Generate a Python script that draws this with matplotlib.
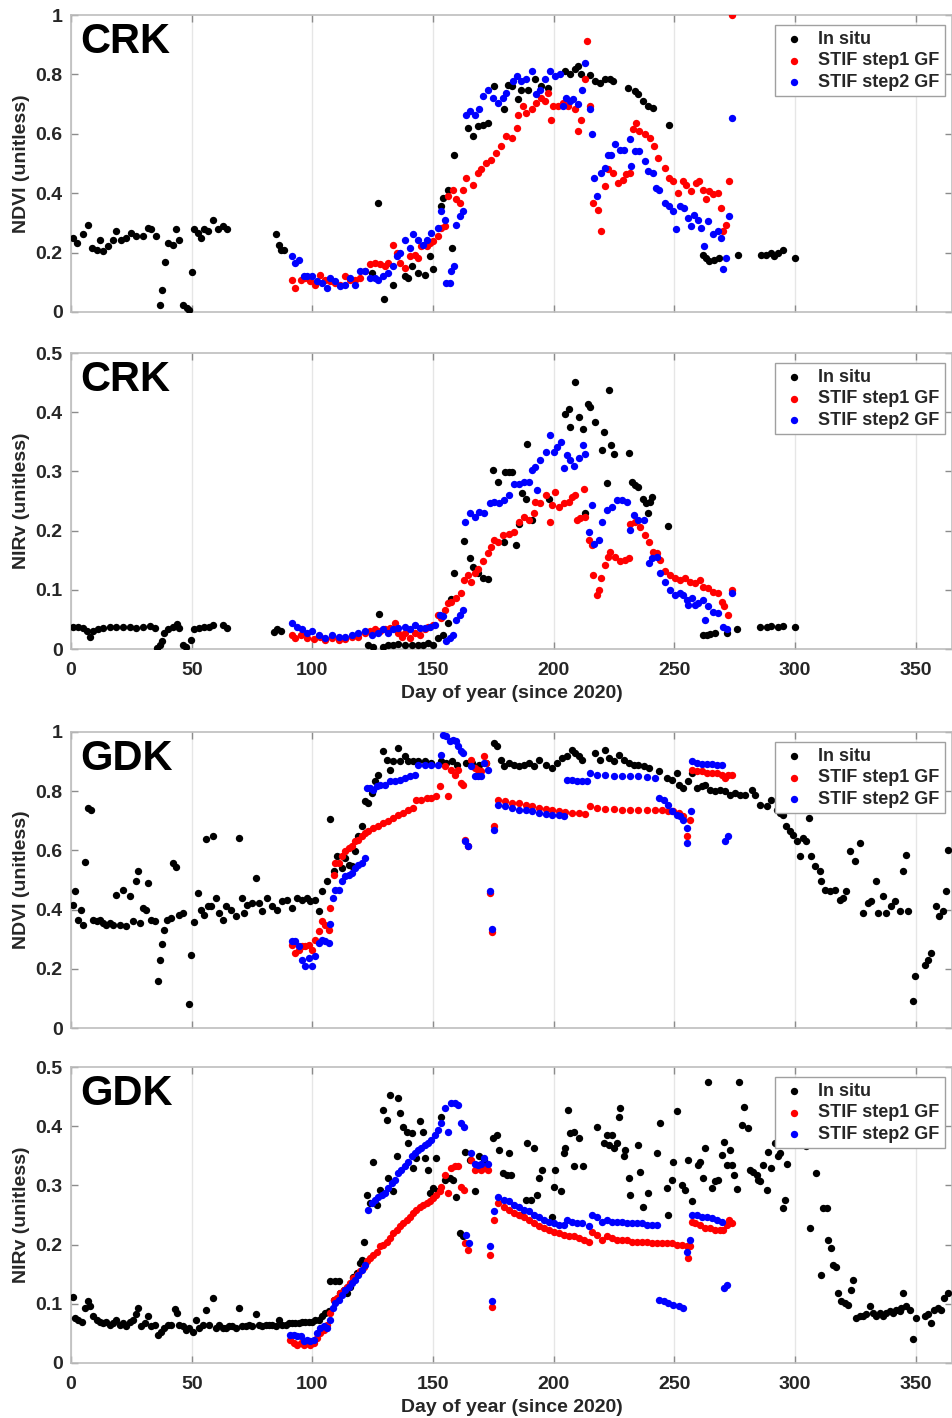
import matplotlib
matplotlib.use("Agg")
import matplotlib.pyplot as plt
from matplotlib.ticker import FuncFormatter

plt.rcParams['font.family'] = ['Liberation Sans', 'DejaVu Sans']

# ---------------- DATA: (day of year, value) ----------------
crk_ndvi_insitu = [(1.0,0.249),(2.3,0.233),(5.1,0.261),(7.1,0.294),(8.5,0.216),(10.6,0.210),(12.0,0.244),(13.3,0.204),(15.4,0.221),(17.4,0.244),
 (18.8,0.272),(20.9,0.244),(22.9,0.249),(25.0,0.266),(27.1,0.255),(29.8,0.255),(31.9,0.283),(33.2,0.278),(35.3,0.255),(36.7,0.022),
 (37.8,0.073),(38.9,0.169),(40.1,0.233),(42.2,0.227),(43.5,0.278),(44.9,0.244),(46.3,0.025),(47.9,0.013),(49.0,0.006),(50.0,0.135),
 (51.1,0.278),(52.5,0.266),(53.8,0.249),(55.2,0.278),(56.6,0.272),(58.7,0.311),(60.7,0.278),(62.8,0.289),(64.8,0.278),
 (84.8,0.261),(86.1,0.227),(86.8,0.210),(88.2,0.210),
 (124.6,0.131),(127.3,0.367),(129.8,0.044),(133.5,0.092),(138.3,0.120),(139.7,0.115),(141.1,0.154),(143.8,0.131),(146.6,0.126),(148.6,0.188),
 (150.0,0.143),(153.4,0.356),(154.1,0.384),(156.2,0.412),(158.0,0.216),(158.7,0.527),(164.4,0.620),(166.5,0.592),(168.5,0.626),(170.6,0.631),
 (172.7,0.637),(175.4,0.761),(179.5,0.682),(181.1,0.766),(182.5,0.761),(185.3,0.716),(186.6,0.749),(189.4,0.749),(192.1,0.783),(194.9,0.761),
 (197.7,0.755),(204.5,0.811),(206.6,0.800),(208.7,0.817),(210.1,0.828),(211.4,0.800),(214.9,0.797),(216.9,0.778),(219.0,0.772),(221.1,0.785),
 (223.1,0.785),(224.5,0.778),(230.7,0.755),(233.5,0.744),(234.8,0.733),(236.9,0.710),(239.0,0.693),(241.0,0.688),(247.9,0.630),(261.7,0.193),
 (263.1,0.182),(264.5,0.171),(266.5,0.176),(268.6,0.182),(276.2,0.191),(285.8,0.191),(287.9,0.193),(289.9,0.199),(291.3,0.188),(292.7,0.199),
 (294.8,0.208),(300.0,0.182)]

crk_ndvi_step1 = [(91.6,0.109),(93.0,0.081),(95.1,0.109),(97.1,0.115),(99.2,0.103),(101.2,0.092),(103.3,0.126),(105.4,0.109),(107.4,0.103),(109.5,0.098),
 (111.5,0.092),(113.6,0.120),(115.7,0.109),(117.7,0.109),(119.8,0.115),(121.8,0.137),(123.9,0.160),(126.0,0.165),(128.0,0.160),(130.1,0.154),
 (131.5,0.165),(133.5,0.227),(134.9,0.199),(136.3,0.165),(138.3,0.148),(140.4,0.188),(142.4,0.193),(143.8,0.182),(145.2,0.221),(147.3,0.221),
 (148.6,0.233),(150.0,0.238),(152.1,0.255),(153.4,0.283),(154.8,0.289),(156.2,0.390),(158.2,0.412),(159.6,0.379),(161.0,0.367),(162.4,0.412),
 (163.7,0.452),(166.5,0.429),(168.5,0.469),(169.9,0.480),(172.0,0.502),(174.0,0.513),(176.1,0.536),(178.2,0.558),(180.4,0.592),(182.5,0.587),
 (184.6,0.620),(185.3,0.665),(187.3,0.693),(188.7,0.671),(190.8,0.682),(192.8,0.704),(194.9,0.721),(196.3,0.710),(197.7,0.738),(199.0,0.648),
 (199.7,0.693),(201.8,0.693),(203.9,0.704),(205.9,0.693),(208.7,0.682),(210.1,0.609),(211.4,0.648),(212.8,0.783),(213.9,0.912),(214.9,0.693),
 (216.3,0.367),(218.3,0.345),(219.7,0.272),(221.1,0.424),(222.5,0.480),(224.5,0.469),(226.6,0.435),(228.7,0.446),(230.0,0.463),(231.4,0.469),
 (232.8,0.615),(234.2,0.637),(235.5,0.609),(237.6,0.598),(239.7,0.587),(241.7,0.558),(243.1,0.519),(245.9,0.485),(247.9,0.452),(249.3,0.440),
 (251.4,0.401),(253.4,0.440),(254.8,0.429),(256.9,0.407),(259.0,0.435),(260.3,0.440),(261.7,0.412),(263.1,0.379),(264.5,0.407),(265.8,0.396),
 (267.9,0.401),(269.3,0.351),(270.0,0.272),(271.4,0.294),(272.7,0.440),(273.7,1.000)]

crk_ndvi_step2 = [(91.6,0.188),(93.0,0.165),(94.6,0.176),(96.4,0.120),(97.8,0.120),(99.9,0.120),(101.9,0.103),(104.0,0.098),(106.0,0.081),(107.4,0.115),
 (109.5,0.103),(111.5,0.087),(113.6,0.092),(115.7,0.115),(117.7,0.092),(119.8,0.137),(121.8,0.137),(123.9,0.115),(126.0,0.115),(127.3,0.109),
 (129.4,0.120),(131.5,0.131),(133.5,0.154),(134.9,0.188),(136.3,0.199),(138.3,0.244),(140.4,0.216),(141.8,0.261),(143.8,0.244),(145.9,0.227),
 (147.3,0.244),(149.3,0.266),(152.1,0.283),(153.4,0.339),(154.8,0.311),(155.5,0.098),(156.9,0.098),(157.6,0.137),(158.7,0.154),(159.6,0.294),
 (161.0,0.322),(162.4,0.339),(163.7,0.665),(165.1,0.676),(167.2,0.665),(169.2,0.682),(170.6,0.727),(172.7,0.749),(174.7,0.721),(176.8,0.704),
 (178.8,0.721),(180.2,0.738),(183.2,0.778),(184.6,0.794),(186.6,0.778),(188.7,0.783),(190.8,0.811),(192.8,0.733),(194.2,0.749),(196.3,0.783),
 (198.3,0.811),(200.4,0.794),(202.5,0.800),(203.9,0.693),(205.2,0.721),(206.6,0.710),(208.0,0.716),(210.1,0.699),(211.7,0.749),(212.8,0.839),
 (214.9,0.682),(215.8,0.598),(216.7,0.452),(218.0,0.390),(219.7,0.469),(221.1,0.485),(222.5,0.530),(223.8,0.530),(225.2,0.564),(227.3,0.547),
 (229.3,0.547),(231.4,0.581),(232.1,0.491),(233.5,0.542),(235.5,0.542),(237.6,0.508),(239.0,0.474),(241.0,0.469),(242.4,0.418),(243.8,0.412),
 (245.9,0.367),(247.9,0.356),(249.3,0.339),(250.7,0.278),(252.1,0.356),(254.1,0.351),(255.5,0.317),(256.9,0.289),(258.3,0.328),(259.6,0.311),
 (261.0,0.283),(262.4,0.221),(263.8,0.306),(265.8,0.261),(267.9,0.272),(269.3,0.249),(270.0,0.143),(271.4,0.182),(272.7,0.322),(273.7,0.654)]

crk_nirv_insitu = [(1.0,0.038),(3.0,0.037),(5.1,0.035),(6.5,0.031),(7.8,0.021),(9.2,0.030),(11.3,0.034),(13.3,0.035),(16.1,0.037),(18.8,0.038),
 (21.6,0.037),(24.3,0.037),(27.1,0.035),(29.8,0.037),(32.6,0.039),(34.6,0.035),(35.6,0.001),(36.7,0.007),(37.8,0.013),(38.7,0.027),
 (40.1,0.033),(42.2,0.037),(43.8,0.043),(44.9,0.035),(46.3,0.007),(47.7,0.004),(49.7,0.016),(51.1,0.033),(53.2,0.035),(55.2,0.038),
 (57.3,0.038),(58.7,0.041),(62.8,0.041),(64.8,0.035),(84.1,0.028),(85.4,0.034),(86.8,0.030),
 (123.2,0.007),(125.3,0.004),(127.6,0.059),(129.4,0.004),(131.5,0.007),(133.5,0.006),(135.6,0.009),(138.3,0.007),(141.1,0.007),(143.8,0.007),
 (145.9,0.006),(148.0,0.010),(150.0,0.007),(152.1,0.019),(154.1,0.024),(156.2,0.044),(157.6,0.084),(158.7,0.128),(163.0,0.183),(165.1,0.153),
 (166.5,0.139),(168.5,0.128),(170.6,0.120),(172.7,0.118),(174.7,0.302),(176.8,0.282),(179.3,0.181),(180.0,0.299),(181.4,0.299),(182.8,0.299),
 (184.2,0.176),(185.5,0.212),(186.9,0.263),(188.6,0.254),(189.0,0.347),(191.0,0.218),(197.9,0.254),(204.8,0.397),(206.2,0.406),(206.9,0.375),
 (209.0,0.451),(210.3,0.392),(212.0,0.372),(213.1,0.229),(214.0,0.414),(215.2,0.409),(216.9,0.383),(220.0,0.336),(220.9,0.366),(222.0,0.281),
 (222.7,0.437),(223.8,0.344),(224.8,0.330),(231.0,0.331),(232.4,0.282),(233.7,0.277),(235.1,0.274),(236.8,0.254),(238.2,0.246),(239.0,0.229),
 (239.9,0.249),(240.9,0.257),(247.5,0.208),(262.0,0.024),(263.4,0.024),(264.7,0.026),(266.8,0.027),(271.6,0.027),(275.8,0.033),(285.4,0.037),
 (288.2,0.037),(290.2,0.039),(293.0,0.037),(295.0,0.039),(299.9,0.037)]

crk_nirv_step1 = [(91.6,0.024),(93.0,0.019),(95.1,0.024),(97.8,0.019),(100.5,0.017),(103.3,0.021),(105.4,0.016),(108.1,0.019),(110.9,0.016),(113.6,0.017),
 (116.3,0.021),(119.1,0.021),(121.8,0.027),(123.9,0.031),(126.0,0.033),(128.0,0.031),(130.1,0.033),(132.1,0.035),(134.2,0.044),(135.6,0.027),
 (137.0,0.021),(138.3,0.027),(140.4,0.019),(142.4,0.027),(144.5,0.024),(146.6,0.033),(147.9,0.038),(150.0,0.041),(152.1,0.058),(153.4,0.052),
 (154.8,0.066),(156.2,0.077),(157.6,0.080),(159.6,0.086),(161.7,0.094),(163.0,0.117),(164.4,0.125),(165.8,0.114),(167.2,0.128),(168.5,0.136),
 (170.6,0.148),(172.7,0.162),(174.0,0.173),(175.4,0.184),(176.8,0.181),(178.8,0.192),(181.4,0.195),(183.5,0.198),(185.5,0.215),(187.6,0.223),
 (189.7,0.218),(191.7,0.229),(192.4,0.249),(194.5,0.246),(196.6,0.260),(198.6,0.215),(199.3,0.243),(200.7,0.265),(202.1,0.240),(204.1,0.246),
 (206.2,0.249),(207.6,0.257),(209.0,0.260),(209.6,0.218),(211.0,0.221),(212.4,0.271),(213.1,0.223),(214.5,0.184),(215.8,0.176),(216.1,0.125),
 (217.9,0.091),(218.6,0.100),(219.7,0.120),(221.1,0.142),(222.5,0.156),(223.4,0.164),(225.5,0.156),(227.5,0.148),(229.6,0.150),(231.0,0.153),
 (231.7,0.212),(233.7,0.215),(235.8,0.207),(237.9,0.192),(239.3,0.181),(241.3,0.164),(242.7,0.162),(244.1,0.150),(246.1,0.131),(248.2,0.125),
 (250.3,0.120),(252.3,0.117),(254.4,0.120),(256.5,0.114),(258.5,0.111),(260.6,0.117),(262.0,0.105),(264.0,0.103),(266.1,0.097),(268.2,0.094),
 (269.6,0.080),(270.7,0.072),(272.3,0.058),(273.7,0.100)]

crk_nirv_step2 = [(91.6,0.044),(93.7,0.038),(95.7,0.033),(97.8,0.027),(99.9,0.030),(102.6,0.024),(105.4,0.019),(108.1,0.024),(110.9,0.021),(113.6,0.021),
 (116.3,0.024),(119.1,0.027),(121.8,0.030),(124.6,0.024),(127.3,0.027),(129.4,0.033),(131.5,0.027),(133.5,0.033),(135.6,0.035),(138.3,0.038),
 (140.4,0.033),(142.4,0.041),(144.5,0.035),(146.6,0.035),(148.6,0.038),(150.7,0.041),(152.7,0.058),(154.1,0.055),(155.5,0.013),(156.9,0.019),
 (158.2,0.024),(159.6,0.049),(161.0,0.058),(162.4,0.066),(163.3,0.215),(165.1,0.229),(167.2,0.223),(169.2,0.232),(171.3,0.229),(173.4,0.246),
 (175.4,0.249),(177.5,0.246),(179.5,0.251),(181.4,0.260),(183.5,0.279),(185.5,0.279),(187.6,0.282),(189.7,0.282),(191.0,0.302),(192.4,0.308),
 (193.1,0.268),(194.5,0.319),(196.6,0.333),(198.6,0.361),(200.0,0.333),(201.4,0.341),(202.8,0.350),(204.1,0.305),(205.5,0.327),(206.9,0.319),
 (208.3,0.310),(210.3,0.322),(212.0,0.344),(213.1,0.330),(214.5,0.198),(215.8,0.243),(216.5,0.178),(218.6,0.184),(220.0,0.215),(222.0,0.235),
 (224.1,0.240),(226.2,0.251),(228.2,0.251),(230.3,0.249),(231.7,0.201),(233.1,0.226),(235.1,0.218),(237.2,0.218),(239.3,0.145),(240.6,0.153),
 (242.7,0.156),(244.1,0.128),(246.1,0.114),(248.2,0.100),(250.3,0.091),(252.3,0.094),(253.7,0.091),(255.1,0.083),(255.8,0.075),(257.2,0.086),
 (258.5,0.075),(259.9,0.077),(262.0,0.083),(262.7,0.049),(264.0,0.072),(266.1,0.063),(268.2,0.061),(270.2,0.038),(271.6,0.033),(273.7,0.094)]

gdk_ndvi_insitu = [(1.0,0.417),(1.6,0.462),(3.0,0.366),(4.0,0.400),(5.1,0.349),(5.8,0.560),(7.1,0.743),(8.1,0.735),(9.2,0.366),(10.6,0.360),
 (12.0,0.366),(13.3,0.355),(14.7,0.349),(16.1,0.355),(17.4,0.349),(18.8,0.450),(20.2,0.349),(21.6,0.467),(22.9,0.343),(24.6,0.445),
 (25.7,0.360),(26.8,0.495),(27.7,0.529),(28.7,0.355),(29.8,0.405),(30.9,0.400),(31.9,0.490),(33.2,0.366),(34.6,0.360),(36.0,0.158),
 (37.0,0.229),(37.8,0.285),(38.7,0.332),(39.7,0.366),(41.5,0.372),(42.2,0.557),(43.5,0.544),(44.9,0.383),(46.3,0.389),(49.0,0.081),
 (49.7,0.248),(51.1,0.357),(52.5,0.456),(53.8,0.400),(55.2,0.383),(55.9,0.639),(56.6,0.411),(58.0,0.411),(58.7,0.648),(60.0,0.439),
 (61.4,0.389),(62.8,0.366),(64.1,0.411),(66.2,0.400),(68.3,0.377),(69.6,0.642),(70.7,0.439),(71.7,0.389),(73.1,0.417),(75.1,0.422),
 (76.5,0.507),(77.9,0.422),(79.3,0.394),(81.3,0.439),(83.4,0.411),(85.4,0.400),(87.5,0.428),(89.6,0.434),(91.6,0.405),(93.7,0.439),
 (95.7,0.434),(97.8,0.439),(99.2,0.428),(101.2,0.434),(102.6,0.394),(104.0,0.462),(106.0,0.495),(107.4,0.707),(108.8,0.529),(110.2,0.580),
 (112.2,0.541),(113.6,0.574),(115.0,0.552),(116.3,0.546),(117.7,0.597),(119.1,0.648),(120.5,0.681),(121.8,0.766),(123.2,0.760),(124.6,0.794),
 (126.0,0.833),(127.3,0.856),(129.4,0.935),(130.8,0.907),(132.1,0.873),(133.5,0.901),(135.6,0.946),(136.3,0.901),(138.3,0.918),(139.7,0.901),
 (141.8,0.901),(143.8,0.901),(146.6,0.901),(149.3,0.895),(153.4,0.901),(155.2,0.895),(158.0,0.901),(160.1,0.890),(163.5,0.895),(166.3,0.895),
 (169.0,0.890),(171.8,0.895),(175.2,0.963),(176.6,0.952),(178.0,0.907),(179.3,0.884),(181.4,0.895),(183.5,0.890),(185.5,0.884),(187.6,0.890),
 (189.7,0.895),(191.7,0.884),(193.8,0.907),(196.6,0.890),(199.3,0.878),(201.4,0.895),(203.4,0.912),(205.5,0.918),(207.6,0.940),(209.0,0.929),
 (210.3,0.918),(211.7,0.907),(217.2,0.929),(219.3,0.907),(221.3,0.940),(222.7,0.912),(224.8,0.901),(226.9,0.923),(228.9,0.907),(231.0,0.895),
 (233.1,0.890),(235.1,0.890),(237.2,0.884),(239.3,0.878),(243.4,0.867),(246.8,0.845),(248.9,0.839),(251.0,0.861),(251.7,0.822),(253.7,0.811),
 (255.8,0.833),(257.2,0.861),(259.2,0.811),(261.3,0.816),(262.7,0.822),(264.7,0.805),(266.8,0.800),(268.9,0.805),(270.9,0.800),(273.0,0.788),
 (275.1,0.794),(277.1,0.788),(279.2,0.788),(282.0,0.805),(283.3,0.788),(285.4,0.755),(288.2,0.749),(290.2,0.771),(292.3,0.738),(293.7,0.726),
 (295.0,0.721),(296.4,0.681),(297.8,0.664),(299.2,0.653),(300.6,0.631),(301.9,0.580),(303.3,0.642),(304.7,0.631),(305.6,0.709),(306.7,0.580),
 (308.1,0.546),(310.2,0.529),(310.9,0.495),(312.3,0.467),(314.3,0.462),(316.4,0.467),(318.5,0.434),(319.8,0.439),(321.2,0.462),(322.6,0.597),
 (324.7,0.563),(326.7,0.625),(328.1,0.389),(330.2,0.422),(331.5,0.428),(333.6,0.495),(334.3,0.389),(336.4,0.445),(337.7,0.389),(339.8,0.411),
 (341.2,0.428),(343.3,0.394),(344.6,0.529),(346.0,0.586),(346.7,0.394),(348.8,0.093),(349.7,0.177),(353.6,0.214),(355.0,0.231),(356.3,0.253),
 (358.4,0.411),(359.8,0.377),(361.2,0.394),(362.5,0.462),(363.2,0.602)]

gdk_ndvi_step1 = [(91.6,0.282),(93.0,0.253),(94.4,0.265),(95.7,0.276),(97.1,0.276),(98.5,0.282),(99.9,0.265),(101.2,0.298),(102.6,0.327),(104.0,0.360),
 (105.4,0.349),(106.7,0.332),(107.4,0.405),(108.8,0.518),(109.5,0.557),(110.9,0.557),(112.2,0.580),(113.6,0.597),(115.0,0.608),(116.3,0.614),
 (117.7,0.631),(119.1,0.636),(120.5,0.648),(121.8,0.659),(123.2,0.664),(125.3,0.676),(127.3,0.681),(129.4,0.693),(131.5,0.698),(133.5,0.709),
 (135.6,0.721),(137.6,0.726),(139.7,0.738),(141.8,0.743),(143.1,0.771),(145.2,0.771),(147.3,0.777),(149.3,0.777),(151.4,0.783),(152.7,0.816),
 (154.8,0.884),(156.2,0.783),(157.6,0.873),(158.9,0.856),(160.3,0.873),(161.7,0.828),(162.4,0.822),(163.3,0.636),(164.4,0.614),(165.8,0.907),
 (167.2,0.878),(168.5,0.873),(169.9,0.867),(171.3,0.918),(172.0,0.895),(173.4,0.456),(174.3,0.323),(175.4,0.681),(176.8,0.771),(180.0,0.766),
 (182.8,0.760),(185.5,0.760),(188.3,0.755),(191.0,0.749),(193.8,0.743),(196.6,0.740),(199.3,0.735),(202.1,0.732),(204.8,0.730),(207.6,0.726),
 (210.3,0.726),(213.1,0.724),(215.2,0.749),(217.9,0.743),(221.3,0.740),(224.8,0.740),(228.2,0.738),(231.7,0.738),(235.1,0.738),(238.6,0.735),
 (242.0,0.735),(244.8,0.735),(247.5,0.732),(249.6,0.732),(251.7,0.726),(253.7,0.715),(255.1,0.648),(256.5,0.704),(257.2,0.873),(259.2,0.867),
 (261.3,0.867),(263.4,0.861),(265.4,0.861),(267.5,0.861),(269.6,0.856),(270.9,0.845),(272.3,0.856),(273.7,0.856)]

gdk_ndvi_step2 = [(91.6,0.293),(93.0,0.293),(94.4,0.276),(95.7,0.231),(97.1,0.211),(98.5,0.236),(99.9,0.211),(101.2,0.242),(102.6,0.287),(104.0,0.298),
 (105.4,0.293),(106.7,0.287),(107.4,0.352),(108.4,0.439),(109.5,0.467),(110.9,0.467),(112.2,0.495),(113.6,0.512),(115.0,0.518),(116.3,0.524),
 (117.7,0.541),(119.1,0.552),(120.5,0.557),(121.8,0.574),(122.5,0.811),(123.9,0.811),(125.3,0.805),(126.6,0.816),(128.0,0.822),(130.1,0.822),
 (132.1,0.833),(134.2,0.833),(136.3,0.839),(138.3,0.845),(140.4,0.850),(142.4,0.856),(143.8,0.890),(146.6,0.890),(149.3,0.890),(152.1,0.890),
 (153.4,0.923),(154.1,0.991),(155.5,0.985),(156.9,0.968),(158.2,0.974),(159.6,0.968),(160.3,0.952),(161.7,0.935),(162.4,0.929),(163.3,0.631),
 (164.4,0.614),(165.8,0.884),(167.2,0.850),(168.5,0.850),(169.9,0.850),(171.3,0.895),(172.7,0.873),(173.4,0.462),(174.3,0.334),(175.4,0.670),
 (176.8,0.755),(180.0,0.749),(182.8,0.743),(185.5,0.738),(188.3,0.735),(191.0,0.732),(193.8,0.726),(196.6,0.724),(199.3,0.721),(202.1,0.718),
 (204.1,0.715),(205.5,0.839),(207.6,0.837),(209.6,0.836),(211.7,0.833),(213.8,0.833),(215.2,0.861),(217.9,0.856),(221.3,0.856),(224.8,0.852),
 (228.2,0.852),(231.7,0.850),(235.1,0.850),(238.6,0.848),(242.0,0.845),(243.4,0.777),(245.5,0.771),(247.5,0.755),(248.9,0.732),(251.0,0.721),
 (252.3,0.715),(253.7,0.704),(255.1,0.676),(255.3,0.625),(256.9,0.732),(257.2,0.901),(259.2,0.895),(261.3,0.893),(263.4,0.892),(265.4,0.892),
 (267.5,0.890),(269.6,0.887),(270.9,0.631),(272.0,0.648)]

gdk_nirv_insitu = [(1.0,0.112),(1.6,0.076),(3.0,0.073),(4.4,0.070),(5.8,0.093),(7.1,0.104),(7.8,0.096),(9.2,0.079),(10.6,0.073),(12.0,0.070),
 (13.3,0.067),(14.7,0.070),(16.1,0.065),(17.4,0.067),(18.8,0.073),(20.2,0.065),(21.6,0.067),(22.9,0.062),(24.3,0.070),(25.7,0.073),
 (27.1,0.082),(27.7,0.093),(29.1,0.062),(30.5,0.067),(31.9,0.079),(33.2,0.062),(34.6,0.065),(36.0,0.048),(37.4,0.053),(38.7,0.059),
 (40.1,0.065),(41.5,0.065),(42.9,0.091),(43.8,0.084),(44.9,0.065),(46.3,0.062),(47.7,0.056),(49.0,0.059),(50.4,0.053),(51.8,0.073),
 (53.2,0.059),(54.5,0.065),(55.9,0.090),(57.3,0.065),(58.7,0.110),(60.0,0.059),(61.4,0.065),(62.8,0.059),(64.1,0.059),(65.5,0.062),
 (66.9,0.062),(68.3,0.059),(69.6,0.093),(71.0,0.062),(72.4,0.062),(73.8,0.065),(75.1,0.062),(76.5,0.082),(77.9,0.065),(79.3,0.062),
 (80.6,0.065),(82.0,0.065),(83.4,0.065),(84.8,0.062),(86.1,0.073),(87.5,0.065),(88.9,0.065),(90.2,0.067),(91.6,0.067),(93.0,0.067),
 (94.4,0.067),(95.7,0.070),(97.1,0.070),(98.5,0.070),(99.9,0.070),(101.2,0.073),(102.6,0.073),(104.0,0.079),(105.4,0.084),(106.7,0.087),
 (107.4,0.138),(108.8,0.107),(109.5,0.138),(110.9,0.138),(111.5,0.118),(112.9,0.124),(114.3,0.118),(115.7,0.129),(117.0,0.146),(118.4,0.152),
 (119.8,0.169),(120.5,0.174),(121.2,0.205),(122.5,0.284),(123.9,0.270),(125.3,0.340),(126.6,0.267),(128.0,0.292),(129.4,0.427),(130.8,0.411),
 (131.5,0.312),(132.1,0.453),(133.5,0.290),(134.9,0.349),(135.6,0.447),(136.3,0.422),(137.6,0.399),(139.0,0.391),(139.7,0.371),(141.1,0.388),
 (141.8,0.329),(143.1,0.346),(144.5,0.408),(145.9,0.391),(146.6,0.346),(148.0,0.326),(148.6,0.287),(150.0,0.295),(151.4,0.346),(152.1,0.290),
 (153.4,0.416),(154.8,0.309),(156.9,0.312),(158.2,0.309),(159.6,0.281),(161.0,0.219),(162.4,0.214),(163.3,0.357),(165.1,0.343),(167.2,0.290),
 (169.2,0.349),(171.3,0.343),(174.7,0.380),(176.5,0.385),(177.5,0.360),(178.8,0.321),(180.7,0.318),(181.4,0.354),(182.1,0.318),(186.2,0.250),
 (188.3,0.276),(189.0,0.371),(190.4,0.276),(191.7,0.363),(193.1,0.284),(193.8,0.312),(195.2,0.326),(199.3,0.247),(200.0,0.298),(200.7,0.326),
 (202.8,0.290),(204.1,0.354),(204.8,0.363),(205.9,0.427),(206.9,0.388),(208.3,0.391),(208.5,0.332),(210.3,0.380),(212.0,0.332),(217.9,0.399),
 (220.7,0.371),(222.0,0.385),(222.7,0.368),(224.1,0.385),(224.8,0.363),(226.2,0.371),(226.9,0.416),(227.5,0.430),(228.9,0.349),(229.6,0.360),
 (231.0,0.312),(231.7,0.284),(234.8,0.368),(235.8,0.323),(236.8,0.264),(239.0,0.287),(242.7,0.354),(244.1,0.405),(246.8,0.295),(247.5,0.250),
 (248.9,0.309),(249.6,0.340),(251.0,0.425),(253.0,0.301),(254.4,0.292),(255.8,0.343),(257.2,0.273),(259.9,0.335),(260.6,0.340),(262.0,0.312),
 (262.7,0.363),(263.8,0.475),(265.4,0.295),(266.8,0.307),(268.2,0.309),(269.6,0.352),(270.7,0.374),(271.6,0.335),(273.0,0.360),(273.7,0.335),
 (274.8,0.318),(275.8,0.294),(276.7,0.475),(277.8,0.402),(278.9,0.433),(280.6,0.397),(281.3,0.326),(282.6,0.323),(284.0,0.318),(284.7,0.309),
 (285.4,0.307),(286.8,0.335),(288.2,0.292),(288.8,0.357),(290.2,0.329),(291.6,0.371),(293.0,0.349),(293.7,0.354),(295.0,0.262),(295.7,0.276),
 (296.8,0.337),(298.5,0.371),(304.7,0.366),(306.1,0.228),(308.8,0.321),(310.9,0.149),(311.6,0.262),(313.0,0.262),(313.6,0.208),(315.0,0.194),
 (315.7,0.166),(317.1,0.163),(317.8,0.118),(319.1,0.104),(320.5,0.101),(321.9,0.098),(323.3,0.124),(324.0,0.141),(325.3,0.076),(326.7,0.079),
 (328.1,0.079),(329.5,0.082),(330.9,0.096),(332.2,0.084),(333.6,0.079),(335.0,0.084),(336.4,0.079),(337.7,0.084),(339.1,0.087),(340.5,0.084),
 (341.9,0.090),(343.3,0.087),(343.9,0.093),(344.6,0.118),(346.0,0.096),(347.4,0.090),(348.8,0.040),(350.1,0.076),(353.6,0.079),(355.0,0.082),
 (356.3,0.067),(357.7,0.090),(359.1,0.093),(360.5,0.090),(361.8,0.110),(363.2,0.118)]

gdk_nirv_step1 = [(90.9,0.039),(92.3,0.034),(93.7,0.031),(95.1,0.034),(96.4,0.031),(97.8,0.034),(99.2,0.031),(100.5,0.034),(101.9,0.042),(103.3,0.051),
 (104.7,0.056),(106.0,0.065),(107.4,0.084),(108.8,0.107),(110.2,0.110),(111.5,0.118),(112.9,0.124),(114.3,0.129),(115.7,0.135),(117.0,0.143),
 (118.4,0.149),(119.8,0.155),(121.2,0.163),(122.5,0.172),(123.9,0.177),(125.3,0.183),(126.6,0.187),(128.0,0.197),(129.4,0.200),(130.8,0.205),
 (132.1,0.211),(133.5,0.219),(134.9,0.225),(136.3,0.231),(137.6,0.236),(139.0,0.242),(140.4,0.247),(141.8,0.253),(143.1,0.259),(144.5,0.264),
 (145.9,0.267),(147.3,0.270),(148.6,0.273),(150.0,0.278),(151.4,0.284),(152.7,0.290),(153.4,0.298),(154.8,0.318),(156.2,0.287),(157.6,0.329),
 (158.9,0.332),(160.3,0.332),(161.7,0.298),(162.8,0.292),(163.3,0.202),(164.4,0.191),(165.8,0.343),(167.2,0.326),(168.5,0.329),(169.9,0.326),
 (171.3,0.329),(172.7,0.326),(173.6,0.183),(174.3,0.094),(175.4,0.242),(176.8,0.270),(179.3,0.264),(181.4,0.259),(183.5,0.253),(185.5,0.250),
 (187.6,0.247),(189.7,0.242),(191.7,0.236),(193.8,0.231),(195.9,0.228),(197.9,0.225),(200.0,0.222),(202.1,0.219),(204.1,0.217),(206.2,0.214),
 (208.3,0.214),(210.3,0.211),(212.4,0.208),(214.5,0.205),(215.8,0.222),(217.9,0.217),(220.0,0.208),(222.0,0.214),(224.1,0.211),(226.2,0.208),
 (228.2,0.208),(230.3,0.208),(232.4,0.205),(234.4,0.205),(236.5,0.205),(238.6,0.205),(240.6,0.202),(242.7,0.202),(244.8,0.202),(246.8,0.202),
 (248.9,0.202),(251.0,0.200),(253.0,0.200),(255.1,0.197),(255.8,0.177),(256.5,0.197),(257.2,0.239),(258.5,0.236),(260.6,0.233),(262.7,0.228),
 (264.7,0.228),(266.8,0.225),(268.9,0.225),(270.2,0.225),(271.6,0.233),(272.6,0.242),(273.7,0.236)]

gdk_nirv_step2 = [(90.9,0.048),(92.3,0.048),(93.7,0.045),(95.1,0.045),(96.4,0.037),(97.8,0.039),(99.2,0.037),(100.5,0.039),(101.9,0.051),(103.3,0.059),
 (104.7,0.062),(106.0,0.059),(107.4,0.073),(108.4,0.093),(109.5,0.101),(110.9,0.107),(112.2,0.115),(113.6,0.124),(115.0,0.129),(116.3,0.135),
 (117.7,0.141),(119.1,0.149),(120.5,0.157),(121.8,0.166),(123.2,0.259),(124.6,0.270),(126.0,0.276),(127.3,0.281),(128.7,0.284),(130.1,0.287),
 (131.5,0.295),(132.8,0.304),(134.2,0.309),(135.6,0.321),(136.9,0.326),(138.3,0.332),(139.7,0.340),(141.1,0.349),(142.4,0.354),(143.8,0.360),
 (145.2,0.363),(146.6,0.368),(147.9,0.371),(149.3,0.377),(150.7,0.385),(152.1,0.394),(153.4,0.405),(154.8,0.430),(156.2,0.391),(157.6,0.439),
 (158.9,0.439),(160.3,0.436),(161.7,0.405),(163.0,0.399),(163.6,0.217),(164.7,0.202),(165.8,0.354),(167.2,0.337),(168.5,0.335),(169.9,0.337),
 (171.3,0.346),(172.7,0.337),(173.6,0.197),(174.3,0.104),(175.4,0.256),(176.8,0.281),(179.3,0.276),(181.4,0.273),(183.5,0.267),(185.5,0.264),
 (187.6,0.259),(189.7,0.256),(191.7,0.250),(193.8,0.247),(195.9,0.242),(197.9,0.239),(200.0,0.236),(202.1,0.233),(204.1,0.233),(205.5,0.242),
 (207.6,0.239),(209.6,0.236),(211.7,0.236),(214.5,0.231),(215.8,0.250),(217.9,0.247),(220.0,0.239),(222.0,0.242),(224.1,0.239),(226.2,0.239),
 (228.2,0.239),(230.3,0.236),(232.4,0.236),(234.4,0.236),(236.5,0.236),(238.6,0.233),(240.6,0.233),(242.7,0.233),(243.4,0.107),(245.5,0.104),
 (247.5,0.101),(249.6,0.098),(251.7,0.096),(253.7,0.093),(255.1,0.188),(256.5,0.208),(257.2,0.250),(259.2,0.250),(261.3,0.247),(263.4,0.247),
 (265.4,0.245),(267.5,0.242),(269.6,0.239),(270.7,0.127),(271.6,0.132)]

series_labels = ['In situ', 'STIF step1 GF', 'STIF step2 GF']
series_colors = ['#000000', '#ff0000', '#0000ff']
panel_sites = ['CRK', 'CRK', 'GDK', 'GDK']
panel_ylabels = ['NDVI (unitless)', 'NIRv (unitless)', 'NDVI (unitless)', 'NIRv (unitless)']
panel_ymax = [1.0, 0.5, 1.0, 0.5]
panel_yticks = [[0, 0.2, 0.4, 0.6, 0.8, 1.0], [0, 0.1, 0.2, 0.3, 0.4, 0.5],
                [0, 0.2, 0.4, 0.6, 0.8, 1.0], [0, 0.1, 0.2, 0.3, 0.4, 0.5]]
x_ticks = [0, 50, 100, 150, 200, 250, 300, 350]
x_label = 'Day of year (since 2020)'
panel_data = [
    [crk_ndvi_insitu, crk_ndvi_step1, crk_ndvi_step2],
    [crk_nirv_insitu, crk_nirv_step1, crk_nirv_step2],
    [gdk_ndvi_insitu, gdk_ndvi_step1, gdk_ndvi_step2],
    [gdk_nirv_insitu, gdk_nirv_step1, gdk_nirv_step2],
]
panel_show_xlabels = [False, True, False, True]

# ---------------- FIGURE ----------------
fig = plt.figure(figsize=(9.53, 14.18), dpi=100)
positions = [
    [0.0745, 0.7800, 0.9245, 0.2094],
    [0.0745, 0.5423, 0.9245, 0.2087],
    [0.0745, 0.2750, 0.9245, 0.2088],
    [0.0745, 0.0388, 0.9245, 0.2087],
]
txt_color = '#262626'
spine_color = '#bdbdbd'

def fmt(v, pos):
    return '%g' % v

for i in range(4):
    ax = fig.add_axes(positions[i])
    for data, lab, col in zip(panel_data[i], series_labels, series_colors):
        xs = [d for d, v in data]
        ys = [v for d, v in data]
        ax.scatter(xs, ys, s=28, c=col, linewidths=0, label=lab, zorder=3)
    ax.set_xlim(0, 365)
    ax.set_ylim(0, panel_ymax[i])
    ax.set_xticks(x_ticks)
    ax.set_yticks(panel_yticks[i])
    ax.yaxis.set_major_formatter(FuncFormatter(fmt))
    ax.grid(axis='x', color='#e6e6e6', linewidth=1.0, zorder=0)
    ax.set_axisbelow(True)
    for sp in ax.spines.values():
        sp.set_color(spine_color)
        sp.set_linewidth(1.2)
    ax.tick_params(axis='both', which='both', direction='in', top=True, right=True,
                   length=5, width=1.0, color='#8c8c8c', labelsize=14,
                   labelcolor=txt_color)
    ax.tick_params(axis='y', pad=6)
    ax.tick_params(axis='x', pad=9.5)
    for lbl in ax.get_xticklabels() + ax.get_yticklabels():
        lbl.set_fontweight('bold')
    if not panel_show_xlabels[i]:
        ax.tick_params(axis='x', labelbottom=False)
    else:
        ax.set_xlabel(x_label, fontsize=14, fontweight='bold', color=txt_color, labelpad=4)
    ax.set_ylabel(panel_ylabels[i], fontsize=14, fontweight='bold', color=txt_color, labelpad=4)
    ax.text(0.011, 0.975, panel_sites[i], transform=ax.transAxes, ha='left', va='top',
            fontsize=30, fontweight='bold', color='black', zorder=5)
    leg = ax.legend(loc='upper right', bbox_to_anchor=(0.9915, 0.965), borderaxespad=0,
                    fancybox=False, framealpha=1, edgecolor='#a0a0a0',
                    prop={'weight': 'bold', 'size': 13}, handletextpad=0.5,
                    handlelength=1.6, labelspacing=0.25, borderpad=0.3, scatterpoints=1)
    leg.get_frame().set_linewidth(1.0)
    leg.set_zorder(6)
    for t in leg.get_texts():
        t.set_color(txt_color)

fig.savefig('out.png', dpi=100)
